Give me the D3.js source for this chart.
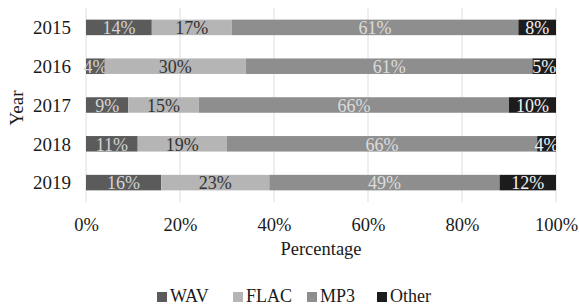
<!DOCTYPE html>
<html><head><meta charset="utf-8">
<script src="https://cdn.jsdelivr.net/npm/d3@7"></script>
<style>body{margin:0;background:#fff}svg{display:block}text{font-family:"Liberation Serif","Times New Roman",serif}</style>
</head><body><svg id="c" width="579" height="307"></svg>
<script>
const years = ["2015","2016","2017","2018","2019"];
const seriesNames = ["WAV","FLAC","MP3","Other"];
const wav = [14,4,9,11,16];
const flac = [17,30,15,19,23];
const mp3 = [61,61,66,66,49];
const other = [8,5,10,4,12];
const xTicks = [0,20,40,60,80,100];
const colors = ["#5b5b5b","#b5b5b5","#8e8e8e","#1c1c1c"];
const labelColors = ["#d4d4d4","#333333","#dcdcdc","#f2f2f2"];

(function(){
const rows = years.map((y,i)=>({year:y, WAV:wav[i], FLAC:flac[i], MP3:mp3[i], Other:other[i]}));
const stack = d3.stack().keys(seriesNames)(rows);

const svg = d3.select("#c");
const pL=86, pR=556, pT=8, pB=202;
const x = d3.scaleLinear().domain([0,100]).range([pL,pR]);
const y = d3.scaleBand().domain(years).range([pT,pB]).paddingInner(0.6).paddingOuter(0.3);

svg.append("g").selectAll("line").data(xTicks).join("line")
  .attr("x1",d=>x(d)).attr("x2",d=>x(d)).attr("y1",pT).attr("y2",pB)
  .attr("stroke","#dedede").attr("stroke-width",1);

const g = svg.append("g");
stack.forEach((s,si)=>{
  g.append("g").selectAll("rect").data(s).join("rect")
    .attr("x",d=>x(d[0])).attr("width",d=>x(d[1])-x(d[0]))
    .attr("y",d=>y(d.data.year)).attr("height",y.bandwidth())
    .attr("fill",colors[si]);
  g.append("g").selectAll("text").data(s).join("text")
    .attr("x",d=>(x(d[0])+x(d[1]))/2).attr("y",d=>y(d.data.year)+y.bandwidth()/2)
    .attr("dy","0.38em").attr("text-anchor","middle")
    .attr("font-size","18px").attr("fill",labelColors[si])
    .text(d=>(d[1]-d[0])+"%");
});

const yAxis = d3.axisLeft(y).tickSize(0).tickPadding(15);
const ya = svg.append("g").attr("transform",`translate(${pL},0)`).call(yAxis);
ya.select(".domain").remove();
ya.selectAll("text").attr("font-size","19px").attr("fill","#1a1a1a").attr("font-family","Liberation Serif").attr("dy","0.36em");

const xAxis = d3.axisBottom(x).tickValues(xTicks).tickFormat(d=>d+"%").tickSize(0).tickPadding(16);
const xa = svg.append("g").attr("transform",`translate(0,${pB})`).call(xAxis);
xa.select(".domain").remove();
xa.selectAll("text").attr("font-size","18.5px").attr("fill","#1a1a1a").attr("font-family","Liberation Serif");

svg.append("text").attr("x",(pL+pR)/2).attr("y",255).attr("text-anchor","middle")
  .attr("font-size","18.5px").attr("fill","#1a1a1a").text("Percentage");
svg.append("text").attr("transform",`translate(23,108) rotate(-90)`)
  .attr("text-anchor","middle").attr("font-size","19px").attr("fill","#1a1a1a").text("Year");

const legX = [157,233,307,377];
const leg = svg.append("g");
seriesNames.forEach((n,i)=>{
  leg.append("rect").attr("x",legX[i]).attr("y",292).attr("width",10).attr("height",10).attr("fill",colors[i]);
  leg.append("text").attr("x",legX[i]+13).attr("y",302).attr("font-size","18px").attr("fill","#1a1a1a").text(n);
});
})();
</script></body></html>
